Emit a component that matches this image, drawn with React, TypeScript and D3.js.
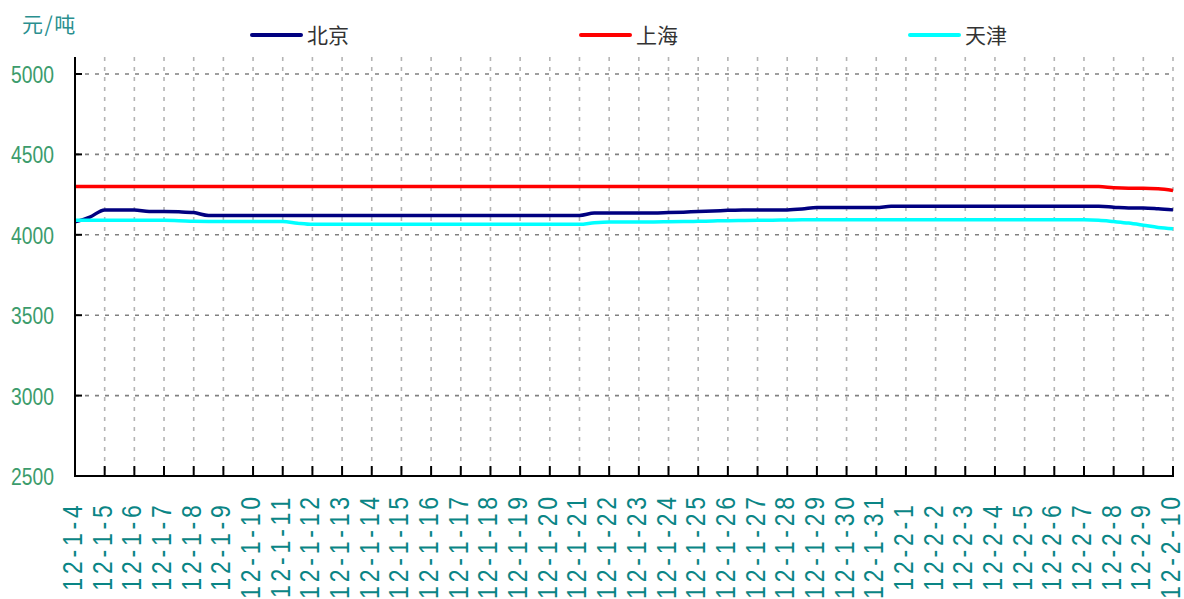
import React from "react";
import * as d3 from "d3";

const dates = [
  "12-1-4","12-1-5","12-1-6","12-1-7","12-1-8","12-1-9","12-1-10","12-1-11","12-1-12","12-1-13",
  "12-1-14","12-1-15","12-1-16","12-1-17","12-1-18","12-1-19","12-1-20","12-1-21","12-1-22","12-1-23",
  "12-1-24","12-1-25","12-1-26","12-1-27","12-1-28","12-1-29","12-1-30","12-1-31","12-2-1","12-2-2",
  "12-2-3","12-2-4","12-2-5","12-2-6","12-2-7","12-2-8","12-2-9","12-2-10",
];

const yTicks = [2500, 3000, 3500, 4000, 4500, 5000];

// two readings per day (half-day steps)
const beijing = [
  4080, 4110, 4155, 4155, 4155, 4145, 4145, 4143, 4138, 4120,
  4120, 4120, 4120, 4120, 4120, 4120, 4120, 4120, 4120, 4120,
  4120, 4120, 4120, 4120, 4120, 4120, 4120, 4120, 4120, 4120,
  4120, 4120, 4120, 4120, 4120,
  4135, 4135, 4135, 4135, 4135,
  4138, 4141, 4145, 4148, 4152, 4155, 4155, 4155, 4155, 4160, 4170,
  4170, 4170, 4170, 4170,
  4177, 4177, 4177, 4177, 4177, 4177, 4177, 4177, 4177, 4177, 4177, 4177, 4177, 4177, 4177,
  4172, 4167, 4167, 4162, 4155,
];

const shanghai = [
  4300, 4300, 4300, 4300, 4300, 4300, 4300, 4300, 4300, 4300,
  4300, 4300, 4300, 4300, 4300, 4300, 4300, 4300, 4300, 4300,
  4300, 4300, 4300, 4300, 4300, 4300, 4300, 4300, 4300, 4300,
  4300, 4300, 4300, 4300, 4300, 4300, 4300, 4300, 4300, 4300,
  4300, 4300, 4300, 4300, 4300, 4300, 4300, 4300, 4300, 4300,
  4300, 4300, 4300, 4300, 4300, 4300, 4300, 4300, 4300, 4300,
  4300, 4300, 4300, 4300, 4300, 4300, 4300, 4300, 4300, 4300,
  4293, 4290, 4290, 4286, 4276,
];

const tianjin = [
  4090, 4090, 4090, 4090, 4090, 4090, 4090,
  4088, 4084,
  4083, 4083, 4083, 4083, 4083, 4083,
  4072,
  4065, 4065, 4065, 4065, 4065, 4065, 4065, 4065, 4065, 4065,
  4065, 4065, 4065, 4065, 4065, 4065, 4065, 4065, 4065,
  4075,
  4080, 4080, 4080, 4080,
  4081, 4082, 4084, 4086, 4088, 4089, 4090, 4091, 4092, 4093,
  4093, 4093, 4093, 4093, 4093, 4093, 4093, 4093, 4093, 4093,
  4093, 4093, 4093, 4093, 4093, 4093, 4093, 4093, 4093,
  4090, 4082, 4073, 4060, 4046, 4038,
];

const seriesNames = ["北京", "上海", "天津"];
const seriesColors = ["#000080", "#ff0000", "#00ffff"];
const seriesData = [beijing, shanghai, tianjin];

export default function App() {
  const W = 1184, H = 599;
  const left = 75, right = 1173, bottom = 476, top = 57;

  const x = d3.scalePoint<string>().domain(dates).range([left, right]);
  const xi = d3.scaleLinear().domain([0, (dates.length - 1) * 2]).range([left, right]);
  const y = d3.scaleLinear().domain([2500, 5000]).range([bottom, 74]);

  const line = d3
    .line<number>()
    .x((_, i) => xi(i))
    .y((d) => y(d))
    .curve(d3.curveMonotoneX);

  const legendX = [252, 581, 910];

  return (
    <svg width={W} height={H} style={{ position: "absolute", left: 0, top: 0, background: "#fff" }}>
      <rect x={0} y={0} width={W} height={H} fill="#fff" />
      {/* unit title */}
      <text x={22} y={32} fontFamily="'Noto Sans CJK SC', sans-serif" fontSize={21} letterSpacing={1.5} fill="#2a8f8f">
        元/吨
      </text>

      {/* vertical grid */}
      {dates.slice(1).map((d) => (
        <line key={"vg" + d} x1={x(d)} x2={x(d)} y1={top} y2={bottom} stroke="#b4b4b4" strokeWidth={1.6} strokeDasharray="4,6" />
      ))}
      {/* horizontal grid */}
      {yTicks.slice(1).map((t) => (
        <line key={"hg" + t} x1={left} x2={right} y1={y(t)} y2={y(t)} stroke="#808080" strokeWidth={1.6} strokeDasharray="4,6" />
      ))}

      {/* series */}
      {seriesData.map((s, i) => (
        <path key={seriesNames[i]} d={line(s) || ""} fill="none" stroke={seriesColors[i]} strokeWidth={3.5} strokeLinejoin="round" />
      ))}

      {/* axes */}
      <line x1={left} x2={left} y1={top} y2={bottom + 1} stroke="#000" strokeWidth={2} />
      <line x1={left - 1} x2={right + 1} y1={bottom} y2={bottom} stroke="#000" strokeWidth={2} />
      {yTicks.slice(1).map((t) => (
        <line key={"yt" + t} x1={left} x2={left + 7} y1={y(t)} y2={y(t)} stroke="#000" strokeWidth={2} />
      ))}
      {dates.slice(1).map((d) => (
        <line key={"xt" + d} x1={x(d)} x2={x(d)} y1={bottom} y2={bottom - 10} stroke="#000" strokeWidth={2} />
      ))}

      {/* y labels */}
      {yTicks.map((t) => (
        <text
          key={"yl" + t}
          transform={`translate(54,${y(t) + 9}) scale(0.84,1)`}
          textAnchor="end"
          fontFamily="'Liberation Sans', Arial, sans-serif"
          fontSize={23}
          fill="#3c9c6c"
        >
          {t}
        </text>
      ))}

      {/* x labels */}
      {dates.map((d) => (
        <text
          key={"xl" + d}
          transform={`translate(${(x(d) as number) + 7},546) rotate(-90) scale(1,1.2)`}
          textAnchor="middle"
          fontFamily="'Liberation Sans', Arial, sans-serif"
          fontSize={23}
          letterSpacing={3.8}
          fill="#0a8585"
        >
          {d}
        </text>
      ))}

      {/* legend */}
      {seriesNames.map((n, i) => (
        <g key={"lg" + n}>
          <line x1={legendX[i]} x2={legendX[i] + 49} y1={35} y2={35} stroke={seriesColors[i]} strokeWidth={4} strokeLinecap="round" />
          <text x={legendX[i] + 55} y={43} fontFamily="'Noto Sans CJK SC', sans-serif" fontSize={21} fill="#333">
            {n}
          </text>
        </g>
      ))}
    </svg>
  );
}
